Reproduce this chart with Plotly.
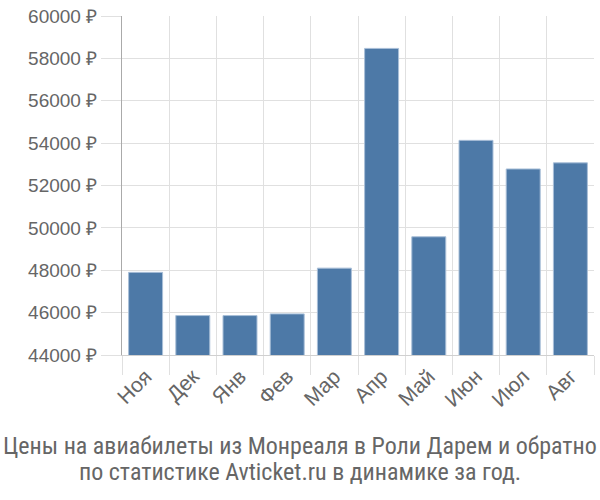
import plotly.graph_objects as go

months = ["Ноя", "Дек", "Янв", "Фев", "Мар", "Апр", "Май", "Июн", "Июл", "Авг"]
prices = [47900, 45860, 45860, 45940, 48100, 58470, 49580, 54130, 52780, 53070]
y_ticks = [44000, 46000, 48000, 50000, 52000, 54000, 56000, 58000, 60000]
y_labels = [f"{v} ₽" for v in y_ticks]
title_lines = ["Цены на авиабилеты из Монреаля в Роли Дарем и обратно",
               "по статистике Avticket.ru в динамике за год."]

fig = go.Figure(go.Bar(
    x=months, y=prices,
    marker=dict(color="#4d79a7", line=dict(color="#a9bfd8", width=1)),
    width=0.72,
))

font_family = "Liberation Sans, Arial, sans-serif"
fig.update_layout(
    width=600, height=500,
    margin=dict(l=122, r=6, t=14, b=145),
    plot_bgcolor="white", paper_bgcolor="white",
    showlegend=False,
    font=dict(family=font_family, color="#666666", size=19),
    bargap=0.28,
)
fig.update_xaxes(
    type="category",
    tickson="boundaries",
    ticks="outside", ticklen=19, tickcolor="#e0e0e0", tickwidth=1,
    showgrid=True, gridcolor="#e0e0e0", gridwidth=1,
    tickangle=-45,
    tickfont=dict(size=21, color="#666666"),
    showline=True, linecolor="#d0d0d0", linewidth=1,
    range=[-0.5, 9.5],
)
fig.update_yaxes(
    range=[44000, 60000],
    tickvals=y_ticks, ticktext=y_labels,
    ticks="outside", ticklen=20, tickcolor="#e0e0e0", tickwidth=1,
    showgrid=True, gridcolor="#e0e0e0", gridwidth=1,
    tickfont=dict(size=19, color="#666666"),
    showline=True, linecolor="#aaaaaa", linewidth=1,
    zeroline=False,
)
plot_top, plot_bottom = 14, 355
plot_h = plot_bottom - plot_top
for line, yc in zip(title_lines, [447, 473]):
    fig.add_annotation(
        text=line, xref="paper", yref="paper",
        x=(300 - 122) / 472, xanchor="center",
        y=-(yc - plot_bottom) / plot_h, yanchor="middle",
        showarrow=False,
        font=dict(size=24, color="#666666", family="Roboto Condensed, Liberation Sans Narrow, Liberation Sans, sans-serif"),
        align="center",
    )
fig.write_html("out.html")
